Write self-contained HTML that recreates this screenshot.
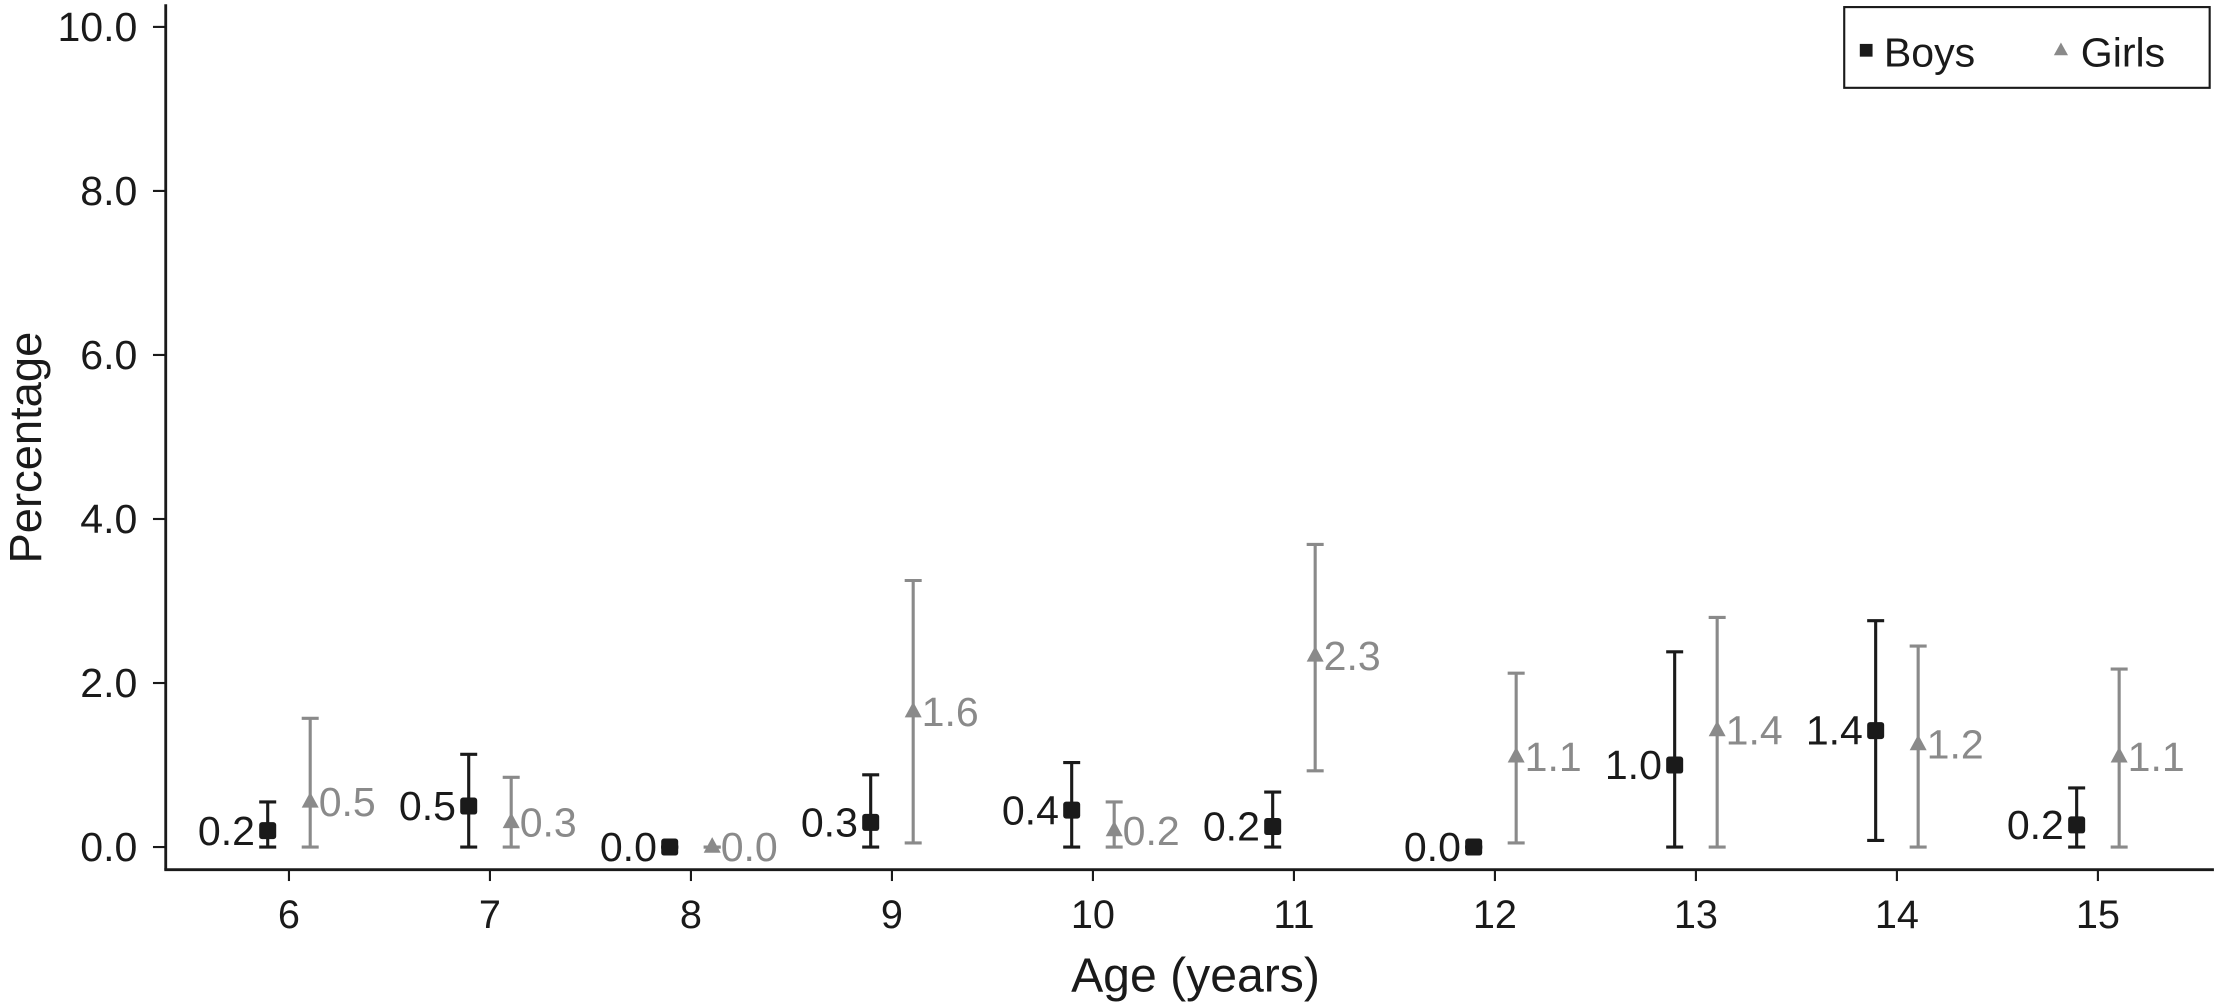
<!DOCTYPE html>
<html><head><meta charset="utf-8"><style>
html,body{margin:0;padding:0;background:#fff;}
svg{display:block;font-family:"Liberation Sans",Arial,sans-serif;}
</style></head><body>
<svg id="chart" width="2221" height="1002" viewBox="0 0 1568 707.4" xmlns="http://www.w3.org/2000/svg">
<g id="axes"></g>
<g id="marks"></g>
<g>
<rect x="1302" y="5" width="258" height="57" fill="#fff" stroke="#1a1a1a" stroke-width="1.5"/>
<rect x="1313" y="31" width="9" height="9" fill="#1a1a1a"/>
<text x="1330" y="47" font-size="29" fill="#1a1a1a">Boys</text>
<polygon points="1455,30 1460,39 1450,39" fill="#8a8a8a"/>
<text x="1469" y="47" font-size="29" fill="#1a1a1a">Girls</text>
</g>
<text transform="translate(29,316) rotate(-90)" text-anchor="middle" font-size="32" fill="#1a1a1a">Percentage</text>
<text x="844" y="700" text-anchor="middle" font-size="34" fill="#1a1a1a">Age (years)</text>
</svg>
<script>
const ages = [6,7,8,9,10,11,12,13,14,15];
const boysVal = [0.2,0.5,0.0,0.3,0.45,0.25,0.0,1.0,1.42,0.27];
const boysLo = [0,0,0,0,0,0,0,0,0.08,0];
const boysHi = [0.55,1.13,0,0.88,1.03,0.67,0,2.38,2.76,0.72];
const boysLabels = ["0.2","0.5","0.0","0.3","0.4","0.2","0.0","1.0","1.4","0.2"];
const girlsVal = [0.55,0.3,0.0,1.65,0.2,2.33,1.1,1.42,1.25,1.1];
const girlsLo = [0,0,0,0.05,0,0.93,0.05,0,0,0];
const girlsHi = [1.57,0.85,0,3.25,0.55,3.69,2.12,2.8,2.45,2.17];
const girlsLabels = ["0.5","0.3","0.0","1.6","0.2","2.3","1.1","1.4","1.2","1.1"];
const yTicks = [0,2,4,6,8,10];
const yTickLabels = ["0.0","2.0","4.0","6.0","8.0","10.0"];

const NS="http://www.w3.org/2000/svg";
const xs = a => 204 + (a-6)*141.9;
const ys = v => 598 - v*57.9;
function mk(tag, attrs, parent){const e=document.createElementNS(NS,tag);for(const k in attrs)e.setAttribute(k,attrs[k]);parent.appendChild(e);return e;}
const axes=document.getElementById('axes'), marks=document.getElementById('marks');
let e;
e=mk('line',{x1:117,y1:3,x2:117,y2:614,stroke:'#1a1a1a','stroke-width':2},axes);


e=mk('line',{x1:116,y1:614,x2:1563,y2:614,stroke:'#1a1a1a','stroke-width':2},axes);


yTicks.forEach((t,i)=>{
  e=mk('line',{x1:108,y1:ys(t),x2:117,y2:ys(t),stroke:'#1a1a1a','stroke-width':1.5},axes);
  
  
  e=mk('text',{x:97,y:ys(t)+10,'text-anchor':'end','font-size':29,fill:'#1a1a1a'},axes);
  e.textContent=yTickLabels[i];
  
  
});
ages.forEach(a=>{
  e=mk('line',{x1:xs(a),y1:614,x2:xs(a),y2:622,stroke:'#1a1a1a','stroke-width':1.5},axes);
  
  
  e=mk('text',{x:xs(a),y:655,'text-anchor':'middle','font-size':28,fill:'#1a1a1a'},axes);
  e.textContent=String(a);
  
  
});
function errbar(x,lo,hi,col,name){
  const g=mk('g',{stroke:col,'stroke-width':2.2},marks);
  
  
  mk('line',{x1:x,y1:ys(lo),x2:x,y2:ys(hi)},g);
  mk('line',{x1:x-6,y1:ys(lo),x2:x+6,y2:ys(lo)},g);
  mk('line',{x1:x-6,y1:ys(hi),x2:x+6,y2:ys(hi)},g);
}
ages.forEach((a,i)=>{
  const bx=xs(a)-15, gx=xs(a)+15;
  errbar(bx,boysLo[i],boysHi[i],'#1a1a1a','boys-error-bar');
  e=mk('rect',{x:bx-6,y:ys(boysVal[i])-6,width:12,height:12,rx:2,fill:'#1a1a1a'},marks);
  
  
  e=mk('text',{x:bx-9,y:ys(boysVal[i])+10,'text-anchor':'end','font-size':29,fill:'#1a1a1a'},marks);
  e.textContent=boysLabels[i];
  
  
  errbar(gx,girlsLo[i],girlsHi[i],'#8a8a8a','girls-error-bar');
  const gy=ys(girlsVal[i]);
  e=mk('polygon',{points:`${gx},${gy-7} ${gx+6},${gy+4} ${gx-6},${gy+4}`,fill:'#8a8a8a'},marks);
  
  
  e=mk('text',{x:gx+6,y:gy+10,'font-size':29,fill:'#8a8a8a'},marks);
  e.textContent=girlsLabels[i];
  
  
});
</script>
</body></html>
